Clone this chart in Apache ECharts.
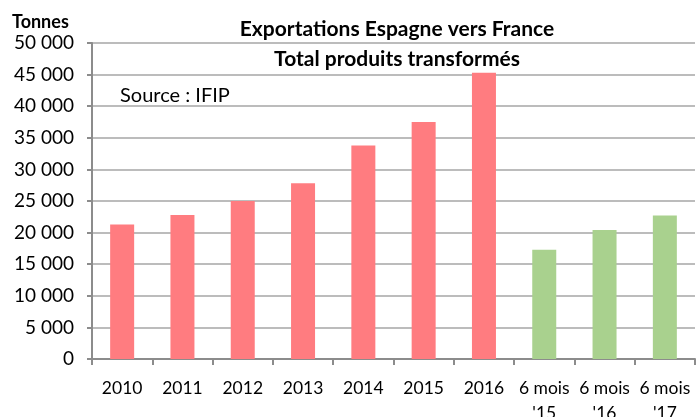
<!DOCTYPE html>
<html>
<head>
<meta charset="utf-8">
<script src="https://cdn.jsdelivr.net/npm/echarts@6/dist/echarts.min.js"></script>
<style>
  html, body { margin: 0; padding: 0; background: #fff; }
  #chart { width: 696px; height: 417px; }
</style>
</head>
<body>
<div id="chart"></div>
<script>
  // categories and values
  const categories = ['2010', '2011', '2012', '2013', '2014', '2015', '2016', "6 mois\n'15", "6 mois\n'16", "6 mois\n'17"]
  const annualValues = [21300, 22800, 25000, 27800, 33800, 37500, 45300, null, null, null]
  const halfYearValues = [null, null, null, null, null, null, null, 17300, 20400, 22700]
  const yTicks = { min: 0, max: 50000, interval: 5000 }

  const font = 'Lato, "Open Sans", sans-serif'
  const chart = echarts.init(document.getElementById('chart'))

  // 50000 -> "50 000"
  const fmt = v => String(v).replace(/\B(?=(\d{3})+(?!\d))/g, ' ')

  chart.setOption({
    animation: false,
    title: {
      text: 'Exportations Espagne vers France\nTotal produits transformés',
      left: 392,
      textAlign: 'center',
      top: 9,
      textStyle: { fontFamily: font, fontSize: 21, fontWeight: 'bold', color: '#000', lineHeight: 30 }
    },
    graphic: [
      { type: 'text', left: 12, top: 13, style: { text: 'Tonnes', font: 'bold 18px ' + font, fill: '#000' } },
      { type: 'text', left: 120, top: 86, style: { text: 'Source : IFIP', font: '20px ' + font, fill: '#000' } }
    ],
    grid: { left: 92, right: 1, top: 43, bottom: 58, containLabel: false, outerBoundsMode: 'none' },
    xAxis: {
      type: 'category',
      data: categories,
      axisLine: { lineStyle: { color: '#8c8c8c', width: 2 } },
      axisTick: { show: true, length: 6, lineStyle: { color: '#8c8c8c', width: 2 } },
      axisLabel: { fontFamily: font, fontSize: 17.5, color: '#000', margin: 17, lineHeight: 25, interval: 0 }
    },
    yAxis: {
      type: 'value',
      min: yTicks.min,
      max: yTicks.max,
      interval: yTicks.interval,
      axisLine: { show: true, lineStyle: { color: '#8c8c8c', width: 2 } },
      axisTick: { show: true, length: 5, lineStyle: { color: '#8c8c8c', width: 2 } },
      splitLine: { lineStyle: { color: '#a6a6a6', width: 1.5 } },
      axisLabel: { fontFamily: font, fontSize: 19, color: '#000', margin: 18, formatter: fmt }
    },
    series: [
      {
        type: 'bar',
        data: annualValues,
        barWidth: 24,
        barGap: '-100%',
        itemStyle: { color: '#ff7c80' }
      },
      {
        type: 'bar',
        data: halfYearValues,
        barWidth: 24,
        itemStyle: { color: '#a9d18e' }
      }
    ]
  })
</script>
</body>
</html>
